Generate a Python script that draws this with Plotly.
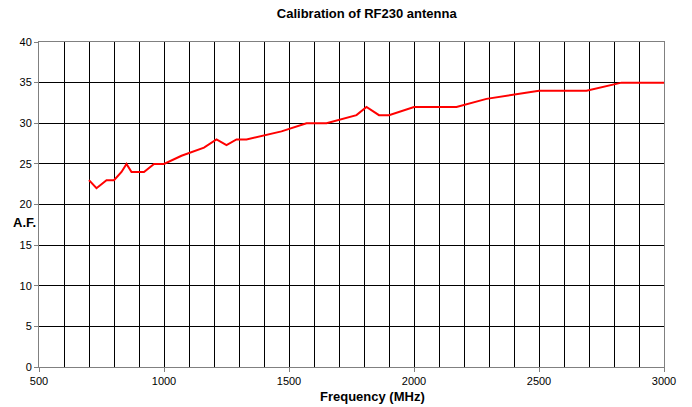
import plotly.graph_objects as go

freq_mhz = [700, 730, 770, 800, 830, 850, 870, 920, 960, 1000, 1070, 1160, 1210, 1250,
            1290, 1330, 1470, 1570, 1650, 1770, 1810, 1860, 1900, 2000, 2170, 2290,
            2500, 2690, 2830, 3000]
af_db = [23, 22, 23, 23, 24, 25, 24, 24, 25, 25, 26, 27, 28, 27.3,
         28, 28, 29, 30, 30, 31, 32, 31, 31, 32, 32, 33,
         34, 34, 35, 35]

x_ticks = [500, 1000, 1500, 2000, 2500, 3000]
y_ticks = [0, 5, 10, 15, 20, 25, 30, 35, 40]

fig = go.Figure()
fig.add_trace(go.Scatter(x=freq_mhz, y=af_db, mode="lines",
                         line=dict(color="#FF0000", width=2), showlegend=False))

font = "Liberation Sans, Arial, sans-serif"
fig.update_layout(
    width=692, height=407,
    margin=dict(l=39, r=28, t=42, b=40),
    paper_bgcolor="white", plot_bgcolor="white",
    font=dict(family=font, size=11, color="black"),
    title=dict(text="<b>Calibration of RF230 antenna</b>", x=0.53, xanchor="center",
               y=0.968, yanchor="middle", font=dict(size=13, family=font)),
    xaxis=dict(range=[500, 3000], tickvals=x_ticks, showgrid=True, gridcolor="black",
               gridwidth=1, minor=dict(dtick=100, tick0=500, showgrid=True,
                                       gridcolor="black", gridwidth=1),
               showline=True, linecolor="#808080", linewidth=1, mirror=True,
               ticks="outside", ticklen=4, tickcolor="#808080", automargin=False,
               zeroline=False),
    yaxis=dict(range=[0, 40], tickvals=y_ticks, showgrid=True, gridcolor="black",
               gridwidth=1, showline=True, linecolor="#808080", linewidth=1, mirror=True,
               ticks="outside", ticklen=4, tickcolor="#808080", zeroline=False,
               automargin=False),
    annotations=[
        dict(text="<b>A.F.</b>", xref="paper", yref="paper",
             x=-0.024, y=0.446, xanchor="center", yanchor="middle",
             showarrow=False, font=dict(size=13, family=font)),
        dict(text="<b>Frequency (MHz)</b>", xref="paper", yref="paper",
             x=0.534, y=-0.092, xanchor="center", yanchor="middle",
             showarrow=False, font=dict(size=13, family=font)),
    ],
)

fig.write_html("out.html", post_script="document.body.style.margin='0';",
               config={"displayModeBar": False})
